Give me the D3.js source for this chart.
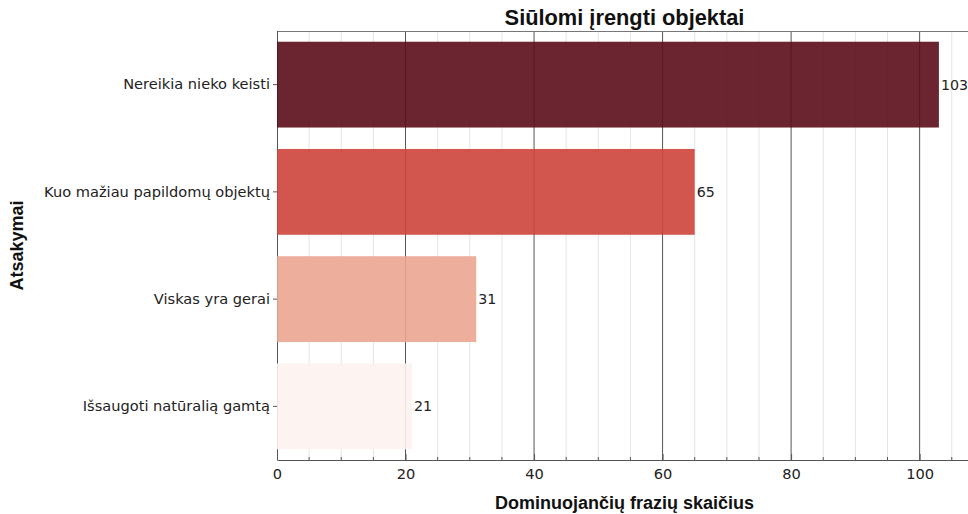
<!DOCTYPE html>
<html>
<head>
<meta charset="utf-8">
<script src="https://cdn.jsdelivr.net/npm/d3@7"></script>
<style>
  body { margin: 0; background: #fff; }
  svg { display: block; }
  .tick text { font-family: "DejaVu Sans", sans-serif; font-size: 14.6px; fill: #222; }
  .axis-title { font-family: "Liberation Sans", Arial, sans-serif; font-weight: bold; font-size: 18px; fill: #111; }
  .chart-title { font-family: "Liberation Sans", Arial, sans-serif; font-weight: bold; font-size: 21.8px; fill: #111; }
  .bar-label { font-family: "DejaVu Sans", sans-serif; font-size: 14.2px; fill: #222; }
</style>
</head>
<body>
<div id="chart"></div>
<script>
// Data
const categories = ['Nereikia nieko keisti', 'Kuo mažiau papildomų objektų', 'Viskas yra gerai', 'Išsaugoti natūralią gamtą'];
const values = [103, 65, 31, 21];
const barColors = ['#5a0d19', '#cd423b', '#eba590', '#fdf2ee'];
const xTicks = [0, 20, 40, 60, 80, 100];

const width = 968, height = 514;
const margin = { top: 31, right: -4, bottom: 54, left: 277 };
const innerW = width - margin.left - margin.right;
const innerH = height - margin.top - margin.bottom;

const svg = d3.select('#chart').append('svg')
  .attr('width', width)
  .attr('height', height);

const g = svg.append('g').attr('transform', `translate(${margin.left},${margin.top})`);

// Scales
const x = d3.scaleLinear()
  .domain([0, d3.max(values) * 1.05])
  .range([0, innerW]);

const y = d3.scaleBand()
  .domain(categories)
  .range([0, innerH])
  .paddingInner(0.2)
  .paddingOuter(0.1);

const minorTicks = d3.range(5, x.domain()[1], 5).filter(v => v % 20 !== 0);

// Minor grid
g.append('g')
  .selectAll('line')
  .data(minorTicks)
  .join('line')
  .attr('x1', d => x(d)).attr('x2', d => x(d))
  .attr('y1', 0).attr('y2', innerH)
  .attr('stroke', '#e4e4e4')
  .attr('stroke-width', 1);

// Major grid
g.append('g')
  .selectAll('line')
  .data(xTicks.filter(v => v > 0))
  .join('line')
  .attr('x1', d => x(d)).attr('x2', d => x(d))
  .attr('y1', 0).attr('y2', innerH)
  .attr('stroke', '#555')
  .attr('stroke-width', 1);

// Top and left spines
g.append('line')
  .attr('x1', 0).attr('x2', innerW)
  .attr('y1', 0.5).attr('y2', 0.5)
  .attr('stroke', '#777');
g.append('line')
  .attr('x1', 0.5).attr('x2', 0.5)
  .attr('y1', 0).attr('y2', innerH)
  .attr('stroke', '#555');

// Bars
g.selectAll('.bar')
  .data(categories)
  .join('rect')
  .attr('class', 'bar')
  .attr('x', 0)
  .attr('y', d => y(d))
  .attr('width', (d, i) => x(values[i]))
  .attr('height', y.bandwidth())
  .attr('fill', (d, i) => barColors[i])
  .attr('fill-opacity', 0.9);

// Bar labels
g.selectAll('.bar-label')
  .data(categories)
  .join('text')
  .attr('class', 'bar-label')
  .attr('x', (d, i) => x(values[i]) + 2)
  .attr('y', d => y(d) + y.bandwidth() / 2)
  .attr('dy', '0.35em')
  .text((d, i) => values[i]);

// X axis (ticks pointing inward)
const xAxis = g.append('g')
  .attr('transform', `translate(0,${innerH})`)
  .call(d3.axisBottom(x).tickValues(xTicks).tickSize(-6).tickPadding(9).tickSizeOuter(0));
xAxis.select('.domain').attr('stroke', '#555');
xAxis.selectAll('.tick line').attr('stroke', '#555');

// Minor ticks
xAxis.append('g')
  .selectAll('line')
  .data(minorTicks)
  .join('line')
  .attr('x1', d => x(d)).attr('x2', d => x(d))
  .attr('y1', 0).attr('y2', -3)
  .attr('stroke', '#555');

// Y axis
const yAxis = g.append('g')
  .call(d3.axisLeft(y).tickSize(4).tickPadding(3).tickSizeOuter(0));
yAxis.select('.domain').remove();
yAxis.selectAll('.tick line').attr('stroke', '#555');

// Titles
svg.append('text')
  .attr('class', 'chart-title')
  .attr('x', margin.left + innerW / 2)
  .attr('y', 25)
  .attr('text-anchor', 'middle')
  .text('Siūlomi įrengti objektai');

svg.append('text')
  .attr('class', 'axis-title')
  .attr('x', margin.left + innerW / 2)
  .attr('y', 509)
  .attr('text-anchor', 'middle')
  .text('Dominuojančių frazių skaičius');

svg.append('text')
  .attr('class', 'axis-title')
  .attr('transform', 'rotate(-90)')
  .attr('x', -(margin.top + innerH / 2))
  .attr('y', 23)
  .attr('text-anchor', 'middle')
  .text('Atsakymai');
</script>
</body>
</html>
